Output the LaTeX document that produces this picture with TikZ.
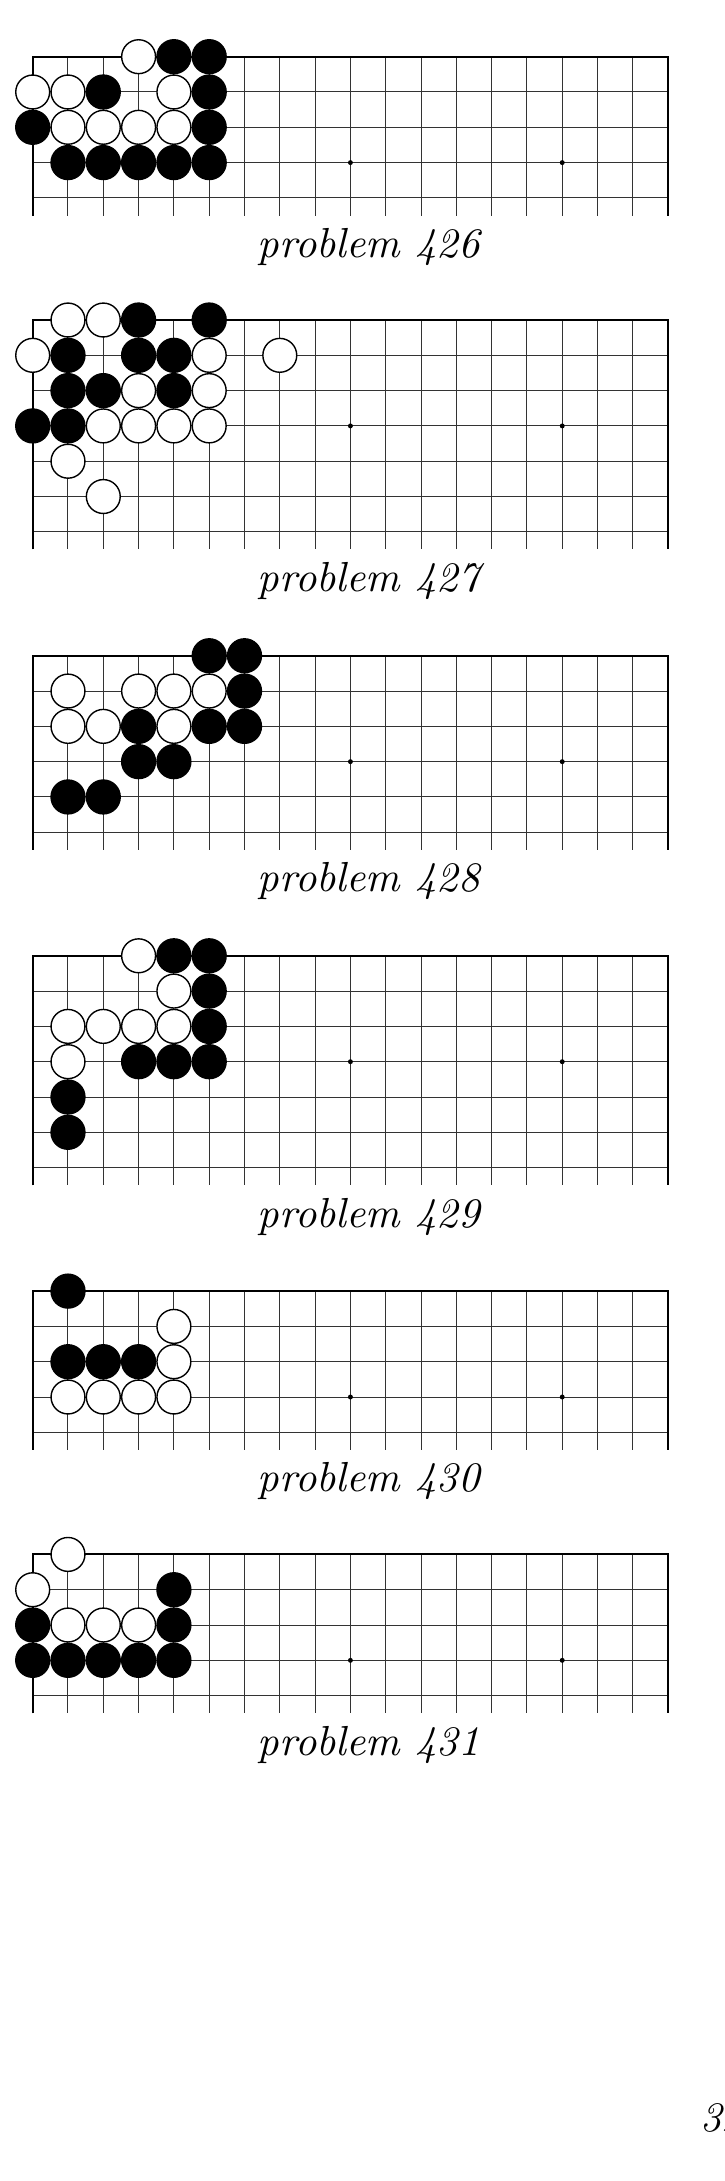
\documentclass[tikz,border=0pt]{standalone}
\usetikzlibrary{positioning}
\newcommand{\goboard}[5]{% number, top, last row, white stones, black stones
  \begin{scope}[shift={(0.926,-#2)}]
    \foreach \c in {1,...,17} \draw[gridline] (\c,0) -- (\c,-#3-0.5);
    \foreach \r in {1,...,#3} \draw[gridline] (0,-\r) -- (18,-\r);
    \draw[edgeline] (0,-#3-0.5) -- (0,0) -- (18,0) -- (18,-#3-0.5);
    \foreach \c in {3,9,15} \fill (\c,-3) circle (0.07);
    \foreach \c/\r in {#4} \draw[wstone] (\c,-\r) circle (0.48);
    \foreach \c/\r in {#5} \draw[bstone] (\c,-\r) circle (0.48);
    \node[probcap] (p#1) at (9.52,-#3-1.69) {problem #1};
  \end{scope}}

\begin{document}
\begin{tikzpicture}[x=8.825pt, y=8.825pt,
    gridline/.style={line width=0.25pt, black!80},
    edgeline/.style={line width=0.5pt, black},
    wstone/.style={fill=white, draw=black, line width=0.35pt},
    bstone/.style={fill=black, draw=black, line width=0.35pt},
    probcap/.style={anchor=base, inner sep=0pt, font=\fontsize{10.5}{12}\selectfont\itshape},
    pagenum/.style={anchor=base west, inner sep=0pt, font=\fontsize{10.5}{12}\selectfont\itshape}
  ]
  \useasboundingbox (0,0) rectangle (20.51,-61.78);
  \clip (0,0) rectangle (20.51,-61.78);

  \goboard{426}{1.606}{4}
    {3/0, 0/1, 1/1, 4/1, 1/2, 2/2, 3/2, 4/2}
    {4/0, 5/0, 2/1, 5/1, 0/2, 5/2, 1/3, 2/3, 3/3, 4/3, 5/3}

  \goboard{427}{9.065}{6}
    {1/0, 2/0, 0/1, 5/1, 7/1, 3/2, 5/2, 2/3, 3/3, 4/3, 5/3, 1/4, 2/5}
    {3/0, 5/0, 1/1, 3/1, 4/1, 1/2, 2/2, 4/2, 0/3, 1/3}

  \goboard{428}{18.575}{5}
    {1/1, 3/1, 4/1, 5/1, 1/2, 2/2, 4/2}
    {5/0, 6/0, 6/1, 3/2, 5/2, 6/2, 3/3, 4/3, 1/4, 2/4}

  \goboard{429}{27.074}{6}
    {3/0, 4/1, 1/2, 2/2, 3/2, 4/2, 1/3}
    {4/0, 5/0, 5/1, 5/2, 3/3, 4/3, 5/3, 1/4, 1/5}

  \goboard{430}{36.572}{4}
    {4/1, 4/2, 1/3, 2/3, 3/3, 4/3}
    {1/0, 1/2, 2/2, 3/2}

  \goboard{431}{44.031}{4}
    {1/0, 0/1, 1/2, 2/2, 3/2}
    {4/1, 0/2, 4/2, 0/3, 1/3, 2/3, 3/3, 4/3}

  \node[pagenum] (page) at (19.83,-60.37) {34};
\end{tikzpicture}
\end{document}
